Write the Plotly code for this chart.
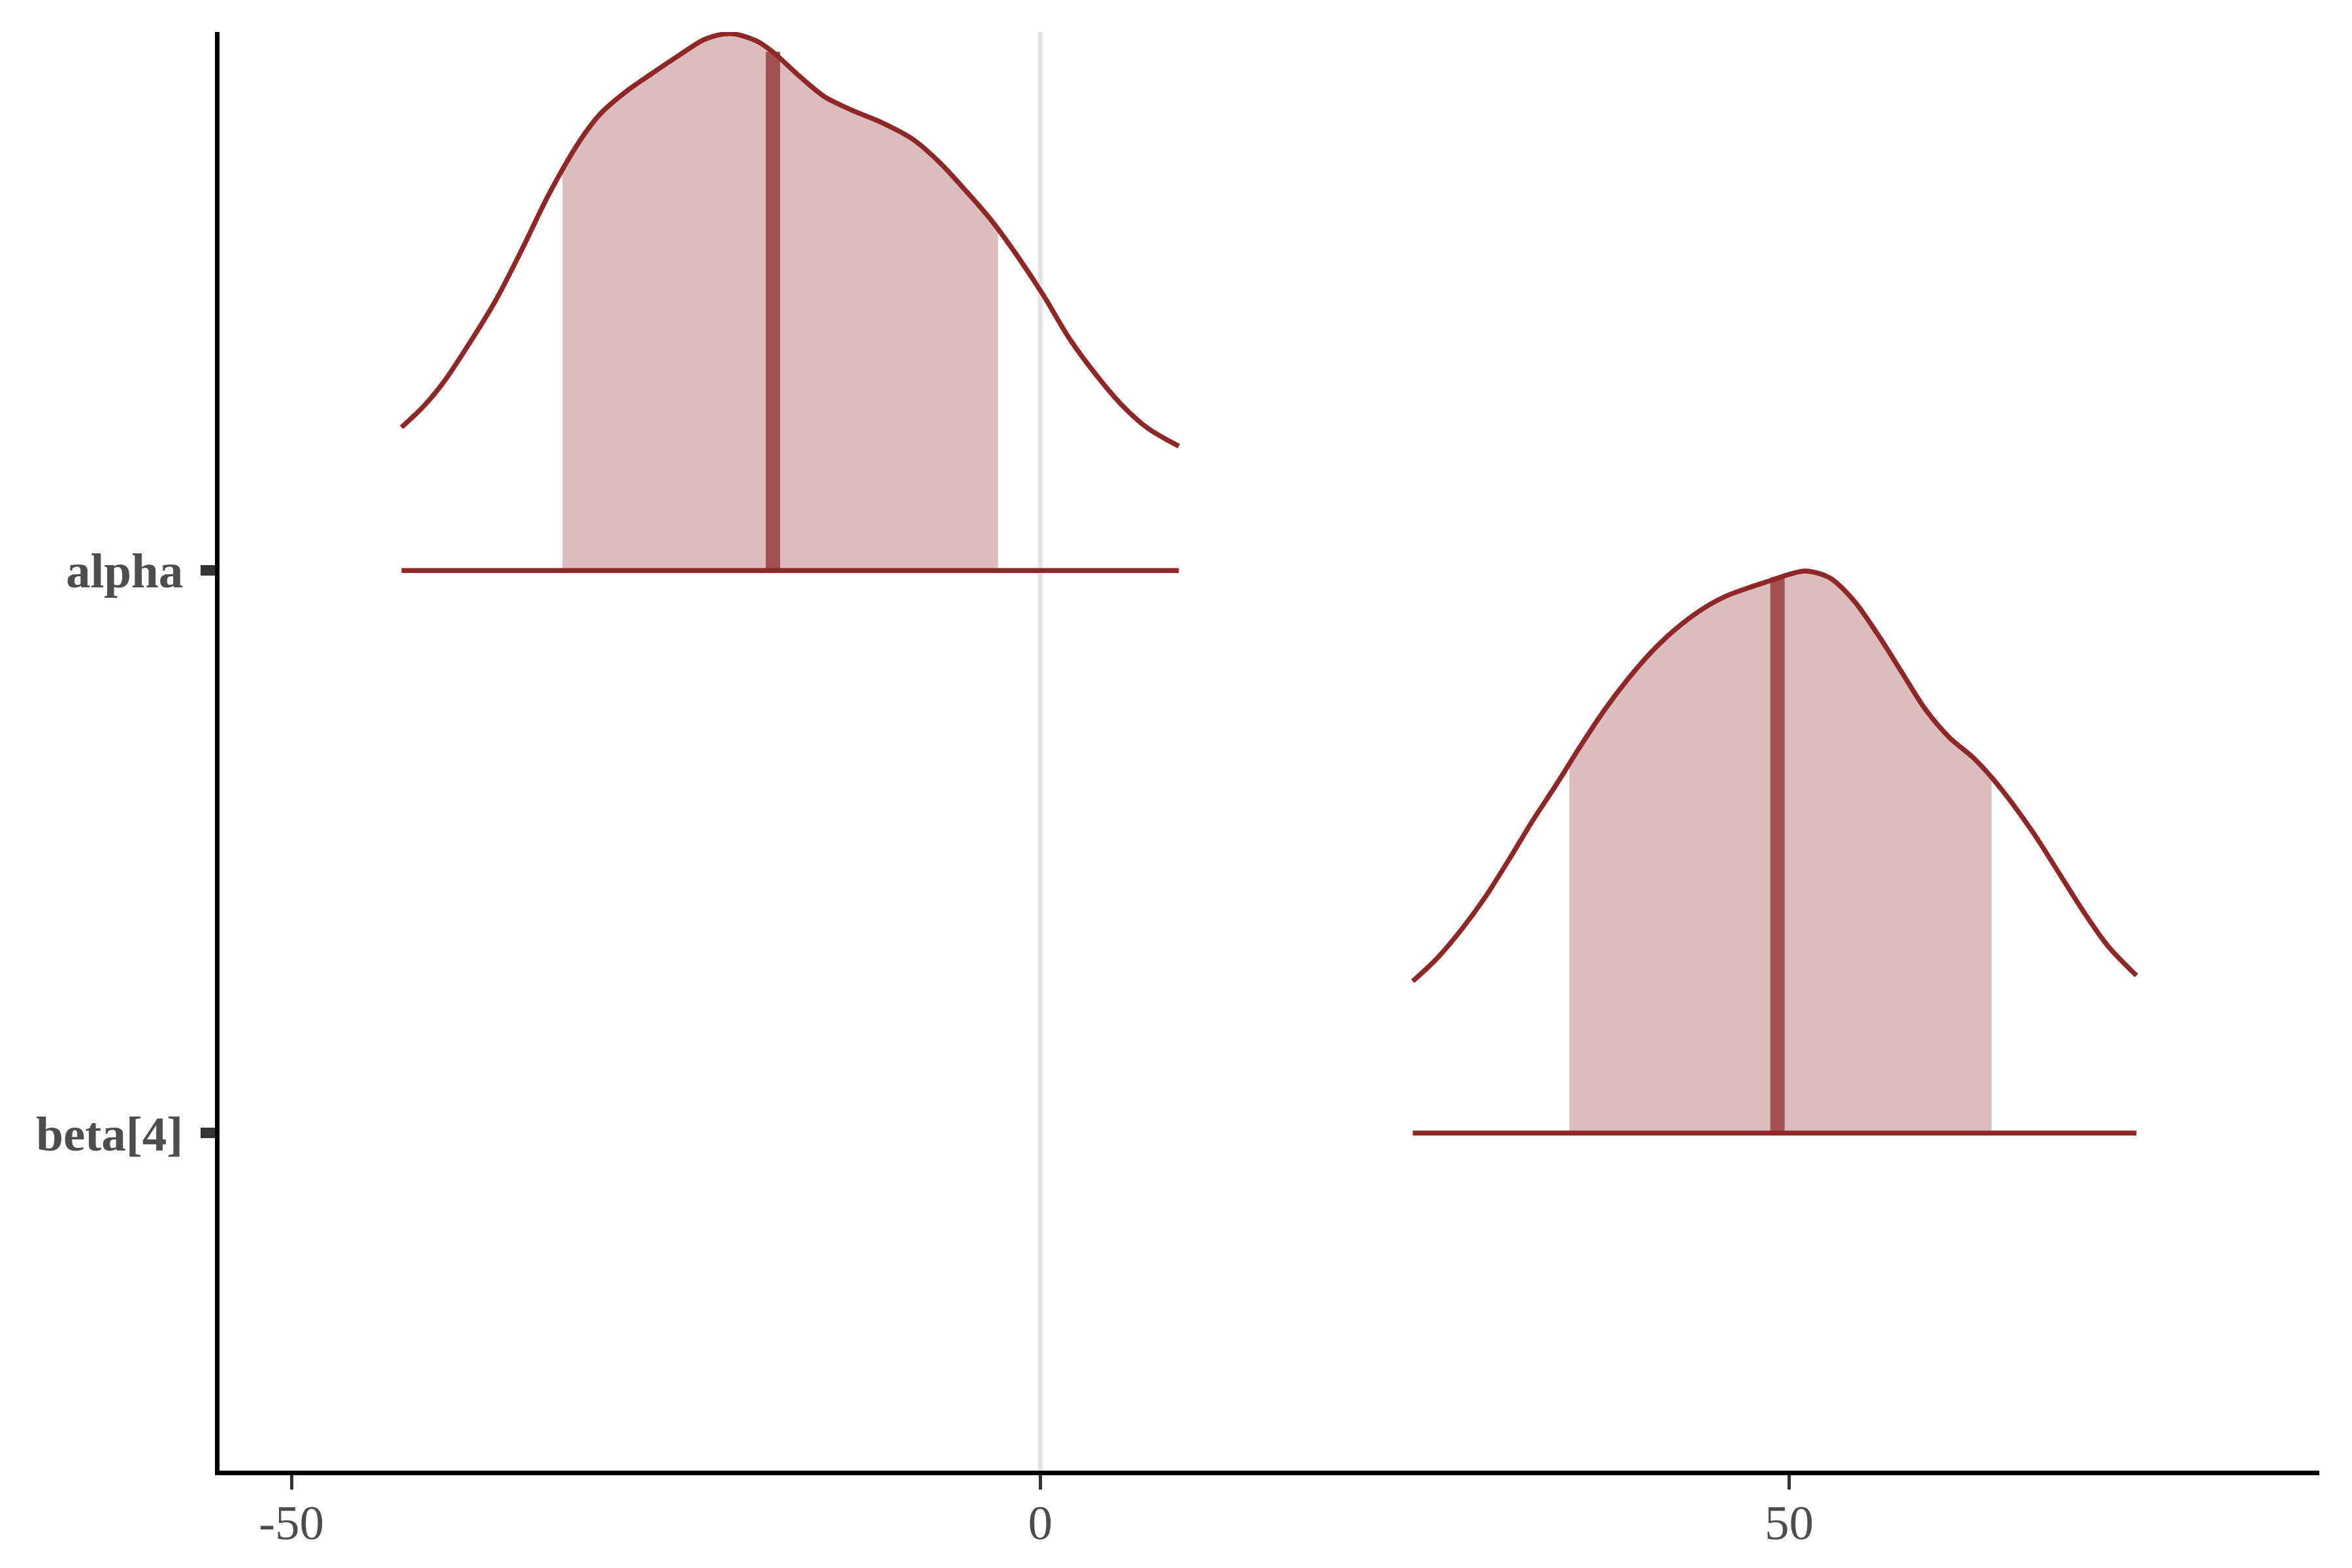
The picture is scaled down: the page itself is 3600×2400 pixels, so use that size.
import plotly.graph_objects as go

# ---- data ----
params = ["alpha", "beta[4]"]
param_pos = [2, 1]

alpha_x = [-42.65, -41.2, -39.8, -38.06, -36.32, -34.58, -32.84, -30.76, -29.36,
           -27.62, -25.89, -24.15, -22.4, -20.67, -18.93, -17.88, -16.14, -14.4, -12.66,
           -10.58, -8.49, -6.75, -5.01, -3.27, -1.53, 0.21, 1.95, 3.69, 5.43, 7.17, 9.25]
alpha_d = [0.2545, 0.291, 0.336, 0.406, 0.482, 0.572, 0.667, 0.763, 0.812,
           0.852, 0.884, 0.915, 0.944, 0.954, 0.941, 0.922, 0.880, 0.842, 0.819,
           0.796, 0.766, 0.726, 0.676, 0.6225, 0.559, 0.489, 0.412, 0.349, 0.2945, 0.253, 0.221]
alpha_interval = [-31.9, -2.82]
alpha_interval_d = [0.712, 0.605]
alpha_median = -17.85
alpha_median_d = 0.922

beta_x = [24.87, 26.47, 28.07, 29.67, 31.27, 32.87, 34.47, 36.07, 37.67, 39.27,
          40.87, 42.47, 44.07, 45.67, 47.27, 48.87, 50.0, 51.11, 52.7, 54.3,
          55.9, 57.5, 59.1, 60.7, 62.3, 63.59, 64.87, 66.47, 68.07, 69.67, 71.27, 73.19]
beta_d = [0.270, 0.310, 0.360, 0.418, 0.485, 0.555, 0.620, 0.688, 0.752, 0.808,
          0.857, 0.897, 0.929, 0.953, 0.969, 0.983, 0.993, 0.999, 0.987, 0.947,
          0.887, 0.820, 0.753, 0.703, 0.667, 0.630, 0.587, 0.527, 0.460, 0.393, 0.333, 0.280]
beta_interval = [35.33, 63.52]
beta_interval_d = [0.657, 0.632]
beta_median = 49.22
beta_median_d = 0.988

x_tickvals = [-50, 0, 50]
x_ticktext = ["-50", "0", "50"]

# ---- styles ----
FILL = "#DCBCBC"
OUTLINE = "#8F2727"
MEDIAN = "#A25050"
FONT = "Liberation Serif"

fig = go.Figure()

series = [
    (alpha_x, alpha_d, alpha_interval, alpha_interval_d, alpha_median, alpha_median_d, param_pos[0]),
    (beta_x, beta_d, beta_interval, beta_interval_d, beta_median, beta_median_d, param_pos[1]),
]

for xs, ds, iv, ivd, med, medd, base in series:
    fig.add_trace(go.Scatter(x=[iv[0], iv[1]], y=[base, base], mode="lines",
                             line=dict(width=0, color=FILL), hoverinfo="skip", showlegend=False))
    fx = [iv[0]] + [x for x in xs if iv[0] < x < iv[1]] + [iv[1]]
    fy = [base + ivd[0]] + [base + d for x, d in zip(xs, ds) if iv[0] < x < iv[1]] + [base + ivd[1]]
    fig.add_trace(go.Scatter(x=fx, y=fy, mode="lines", fill="tonexty", fillcolor=FILL,
                             line=dict(width=0, color=FILL, shape="spline", smoothing=0.8),
                             hoverinfo="skip", showlegend=False))

for xs, ds, iv, ivd, med, medd, base in series:
    fig.add_trace(go.Scatter(x=[med, med], y=[base, base + medd], mode="lines",
                             line=dict(width=22, color=MEDIAN), showlegend=False))
    fig.add_trace(go.Scatter(x=xs, y=[base + d for d in ds], mode="lines",
                             line=dict(width=7.5, color=OUTLINE, shape="spline", smoothing=0.9),
                             showlegend=False))
    fig.add_trace(go.Scatter(x=[xs[0], xs[-1]], y=[base, base], mode="lines",
                             line=dict(width=7.5, color=OUTLINE), showlegend=False))

fig.add_shape(type="line", x0=0, x1=0, y0=0, y1=1, xref="x", yref="paper",
              line=dict(color="#E3E3E3", width=7), layer="below")

fig.update_layout(
    width=3600, height=2400,
    margin=dict(l=328, r=58, t=41, b=157),
    plot_bgcolor="white", paper_bgcolor="white",
    showlegend=False,
    xaxis=dict(range=[-54.8, 85.4], tickvals=x_tickvals, ticktext=x_ticktext,
               showgrid=False, zeroline=False, showline=True, linecolor="black", linewidth=6.5,
               ticks="outside", ticklen=22, tickwidth=4.5, tickcolor="#333333",
               ticklabelstandoff=-14,
               tickfont=dict(family=FONT, size=75, color="#4D4D4D")),
    yaxis=dict(range=[0.4, 2.957], tickvals=param_pos, ticktext=["<b>%s</b>" % p for p in params],
               showgrid=False, zeroline=False, showline=True, linecolor="black", linewidth=6.5,
               ticks="outside", ticklen=22, tickwidth=16, tickcolor="#333333",
               ticklabelstandoff=12,
               tickfont=dict(family=FONT, size=75, color="#4D4D4D")),
)

fig.write_html("out.html")
